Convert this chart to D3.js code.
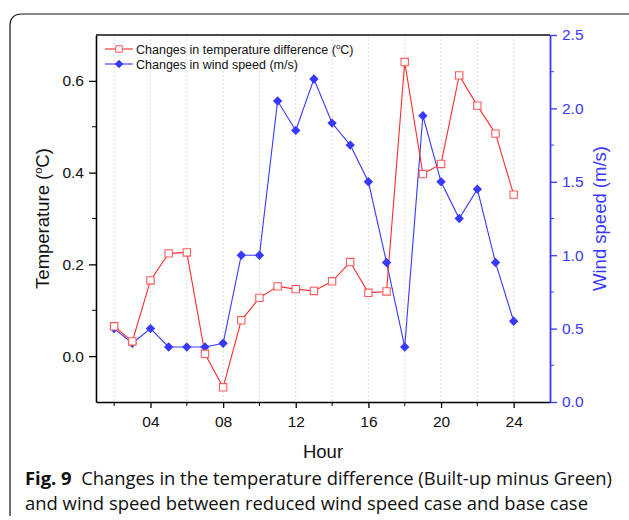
<!DOCTYPE html>
<html>
<head>
<meta charset="utf-8">
<script src="https://cdn.jsdelivr.net/npm/d3@7"></script>
<style>
  body { margin: 0; background: #fff; }
  svg { display: block; }
</style>
</head>
<body>
<div id="chart"></div>
<script>
// datos
var hours = [2, 3, 4, 5, 6, 7, 8, 9, 10, 11, 12, 13, 14, 15, 16, 17, 18, 19, 20, 21, 22, 23, 24];
var tempDiff = [0.065, 0.032, 0.165, 0.224, 0.226, 0.005, -0.068, 0.078, 0.127, 0.152, 0.146, 0.142, 0.163, 0.205, 0.138, 0.141, 0.641, 0.397, 0.419, 0.612, 0.546, 0.485, 0.352];
var windSpeed = [0.5, 0.4, 0.5, 0.375, 0.375, 0.375, 0.4, 1.0, 1.0, 2.05, 1.85, 2.2, 1.9, 1.75, 1.5, 0.95, 0.375, 1.95, 1.5, 1.25, 1.45, 0.95, 0.55];
var xTicks = [4, 8, 12, 16, 20, 24];
var xMinor = [2, 6, 10, 14, 18, 22];
var gridHours = [2, 4, 6, 8, 10, 12, 14, 16, 18, 20, 22, 24];
var leftTicks = [0, 0.2, 0.4, 0.6];
var leftMinor = [0.1, 0.3, 0.5];
var rightTicks = [0, 0.5, 1.0, 1.5, 2.0, 2.5];
var rightMinor = [0.25, 0.75, 1.25, 1.75, 2.25];
var legendLabels = ["Changes in temperature difference (", "Changes in wind speed (m/s)"];
var captionLines = ["Changes in the temperature difference (Built-up minus Green)", "and wind speed between reduced wind speed case and base case"];

var width = 629, height = 520,
	plotL = 96, plotR = 550, plotT = 35, plotB = 402,
	red = "#ff2a2a", redMark = "#ff5a5a", blue = "#3838ff",
	font = "'Liberation Sans', Arial, sans-serif",
	capFont = "'Open Sans', 'Noto Sans', sans-serif";

var svg = d3.select("#chart").append("svg")
	.attr("width", width)
	.attr("height", height);

// marco redondeado
svg.append("path")
	.attr("d", "M10,516 L10,26 Q10,14 22,14 L640,14")
	.attr("fill", "none")
	.attr("stroke", "#111")
	.attr("stroke-width", 1.2);

var x = d3.scaleLinear().domain([1, 26]).range([plotL, plotR]);
var yL = d3.scaleLinear().domain([-0.1, 0.7]).range([plotB, plotT]);
var yR = d3.scaleLinear().domain([0, 2.5]).range([plotB, plotT]);

// rejilla vertical punteada
svg.append("g").selectAll("line")
	.data(gridHours)
	.enter().append("line")
	.attr("x1", function (d) { return x(d) }).attr("x2", function (d) { return x(d) })
	.attr("y1", plotT).attr("y2", plotB)
	.attr("stroke", "#d4d4d4")
	.attr("stroke-width", 0.8)
	.attr("stroke-dasharray", "2,2");

// eje X
var xAxis = svg.append("g")
	.attr("transform", "translate(0," + plotB + ")")
	.call(d3.axisBottom(x).tickValues(xTicks).tickSize(6).tickSizeOuter(0)
		.tickFormat(function (d) { return d < 10 ? "0" + d : "" + d }));
xAxis.append("g").selectAll("line")
	.data(xMinor)
	.enter().append("line")
	.attr("x1", function (d) { return x(d) }).attr("x2", function (d) { return x(d) })
	.attr("y1", 0).attr("y2", 4)
	.attr("stroke", "#000");
xAxis.select(".domain").attr("stroke-width", 1.6);
xAxis.selectAll(".tick line").attr("stroke-width", 1.3);
xAxis.selectAll("text").attr("font-family", font).attr("font-size", 15.5).attr("fill", "#111")
	.attr("y", 25).attr("dy", 0);

// eje izquierdo
var yAxisL = svg.append("g")
	.attr("transform", "translate(" + plotL + ",0)")
	.call(d3.axisLeft(yL).tickValues(leftTicks).tickSize(7).tickSizeOuter(0)
		.tickFormat(d3.format(".1f")));
yAxisL.append("g").selectAll("line")
	.data(leftMinor)
	.enter().append("line")
	.attr("y1", function (d) { return yL(d) }).attr("y2", function (d) { return yL(d) })
	.attr("x1", 0).attr("x2", -4)
	.attr("stroke", "#000");
yAxisL.select(".domain").attr("stroke-width", 1.6);
yAxisL.selectAll(".tick line").attr("stroke-width", 1.3);
yAxisL.selectAll("text").attr("font-family", font).attr("font-size", 15.5).attr("fill", "#111").attr("x", -12);

// eje derecho
var yAxisR = svg.append("g")
	.attr("transform", "translate(" + plotR + ",0)")
	.call(d3.axisRight(yR).tickValues(rightTicks).tickSize(7).tickSizeOuter(0)
		.tickFormat(d3.format(".1f")));
yAxisR.append("g").selectAll("line")
	.data(rightMinor)
	.enter().append("line")
	.attr("y1", function (d) { return yR(d) }).attr("y2", function (d) { return yR(d) })
	.attr("x1", 0).attr("x2", 4)
	.attr("stroke", blue);
yAxisR.select(".domain").attr("stroke", blue).attr("stroke-width", 1.8);
yAxisR.selectAll(".tick line").attr("stroke", blue).attr("stroke-width", 1.3);
yAxisR.selectAll("text").attr("font-family", font).attr("font-size", 15.5).attr("fill", blue).attr("x", 12);

// borde superior
svg.append("line")
	.attr("x1", plotL).attr("x2", plotR)
	.attr("y1", plotT).attr("y2", plotT)
	.attr("stroke", "#111")
	.attr("stroke-width", 1.6);

// titulos de ejes
var tL = svg.append("text")
	.attr("transform", "translate(49," + ((plotT + plotB) / 2) + ") rotate(-90)")
	.attr("text-anchor", "middle")
	.attr("font-family", font).attr("font-size", 18.5).attr("fill", "#111");
tL.append("tspan").text("Temperature (");
tL.append("tspan").attr("font-size", 11).attr("dy", -7).text("o");
tL.append("tspan").attr("dy", 7).text("C)");

svg.append("text")
	.attr("transform", "translate(606," + ((plotT + plotB) / 2) + ") rotate(-90)")
	.attr("text-anchor", "middle")
	.attr("font-family", font).attr("font-size", 18.5).attr("fill", blue)
	.text("Wind speed (m/s)");

svg.append("text")
	.attr("x", (plotL + plotR) / 2).attr("y", 458)
	.attr("text-anchor", "middle")
	.attr("font-family", font).attr("font-size", 18.5).attr("fill", "#111")
	.text("Hour");

// series
var tempLine = d3.line()
	.x(function (d, i) { return x(hours[i]) })
	.y(function (d) { return yL(d) });
var windLine = d3.line()
	.x(function (d, i) { return x(hours[i]) })
	.y(function (d) { return yR(d) });

svg.append("path")
	.attr("d", windLine(windSpeed))
	.attr("fill", "none").attr("stroke", blue).attr("stroke-width", 1.1);

svg.append("path")
	.attr("d", tempLine(tempDiff))
	.attr("fill", "none").attr("stroke", red).attr("stroke-width", 1.1);

var diamond = d3.symbol().type(d3.symbolDiamond2).size(56);
var square = d3.symbol().type(d3.symbolSquare).size(54);

svg.append("g").selectAll("path")
	.data(windSpeed)
	.enter().append("path")
	.attr("transform", function (d, i) { return "translate(" + x(hours[i]) + "," + yR(d) + ")" })
	.attr("d", diamond)
	.attr("fill", blue);

svg.append("g").selectAll("path")
	.data(tempDiff)
	.enter().append("path")
	.attr("transform", function (d, i) { return "translate(" + x(hours[i]) + "," + yL(d) + ")" })
	.attr("d", square)
	.attr("fill", "#fff")
	.attr("stroke", redMark)
	.attr("stroke-width", 1.1);

// leyenda
var legend = svg.append("g").attr("transform", "translate(105,49)");
legend.append("line").attr("x1", 0).attr("x2", 28).attr("stroke", red).attr("stroke-width", 1.1);
legend.append("path").attr("transform", "translate(14,0)").attr("d", d3.symbol().type(d3.symbolSquare).size(42))
	.attr("fill", "#fff").attr("stroke", redMark);
var lt = legend.append("text").attr("x", 31).attr("y", 4.5)
	.attr("font-family", font).attr("font-size", 12.5).attr("fill", "#111");
lt.append("tspan").text(legendLabels[0]);
lt.append("tspan").attr("font-size", 8).attr("dy", -5).text("o");
lt.append("tspan").attr("dy", 5).text("C)");

legend.append("line").attr("x1", 0).attr("x2", 28).attr("y1", 15).attr("y2", 15).attr("stroke", blue).attr("stroke-width", 1.1);
legend.append("path").attr("transform", "translate(14,15)").attr("d", d3.symbol().type(d3.symbolDiamond2).size(48))
	.attr("fill", blue);
legend.append("text").attr("x", 31).attr("y", 19.5)
	.attr("font-family", font).attr("font-size", 12.5).attr("fill", "#111")
	.text(legendLabels[1]);

// pie de figura
var c1 = svg.append("text").attr("x", 25).attr("y", 485)
	.attr("font-family", capFont).attr("font-size", 18).attr("fill", "#111")
	.attr("textLength", 587).attr("lengthAdjust", "spacingAndGlyphs");
c1.append("tspan").attr("font-weight", "bold").text("Fig. 9");
c1.append("tspan").text("\u00a0\u00a0" + captionLines[0]);

svg.append("text").attr("x", 25).attr("y", 510)
	.attr("font-family", capFont).attr("font-size", 18).attr("fill", "#111")
	.attr("textLength", 563).attr("lengthAdjust", "spacingAndGlyphs")
	.text(captionLines[1]);
</script>
</body>
</html>
